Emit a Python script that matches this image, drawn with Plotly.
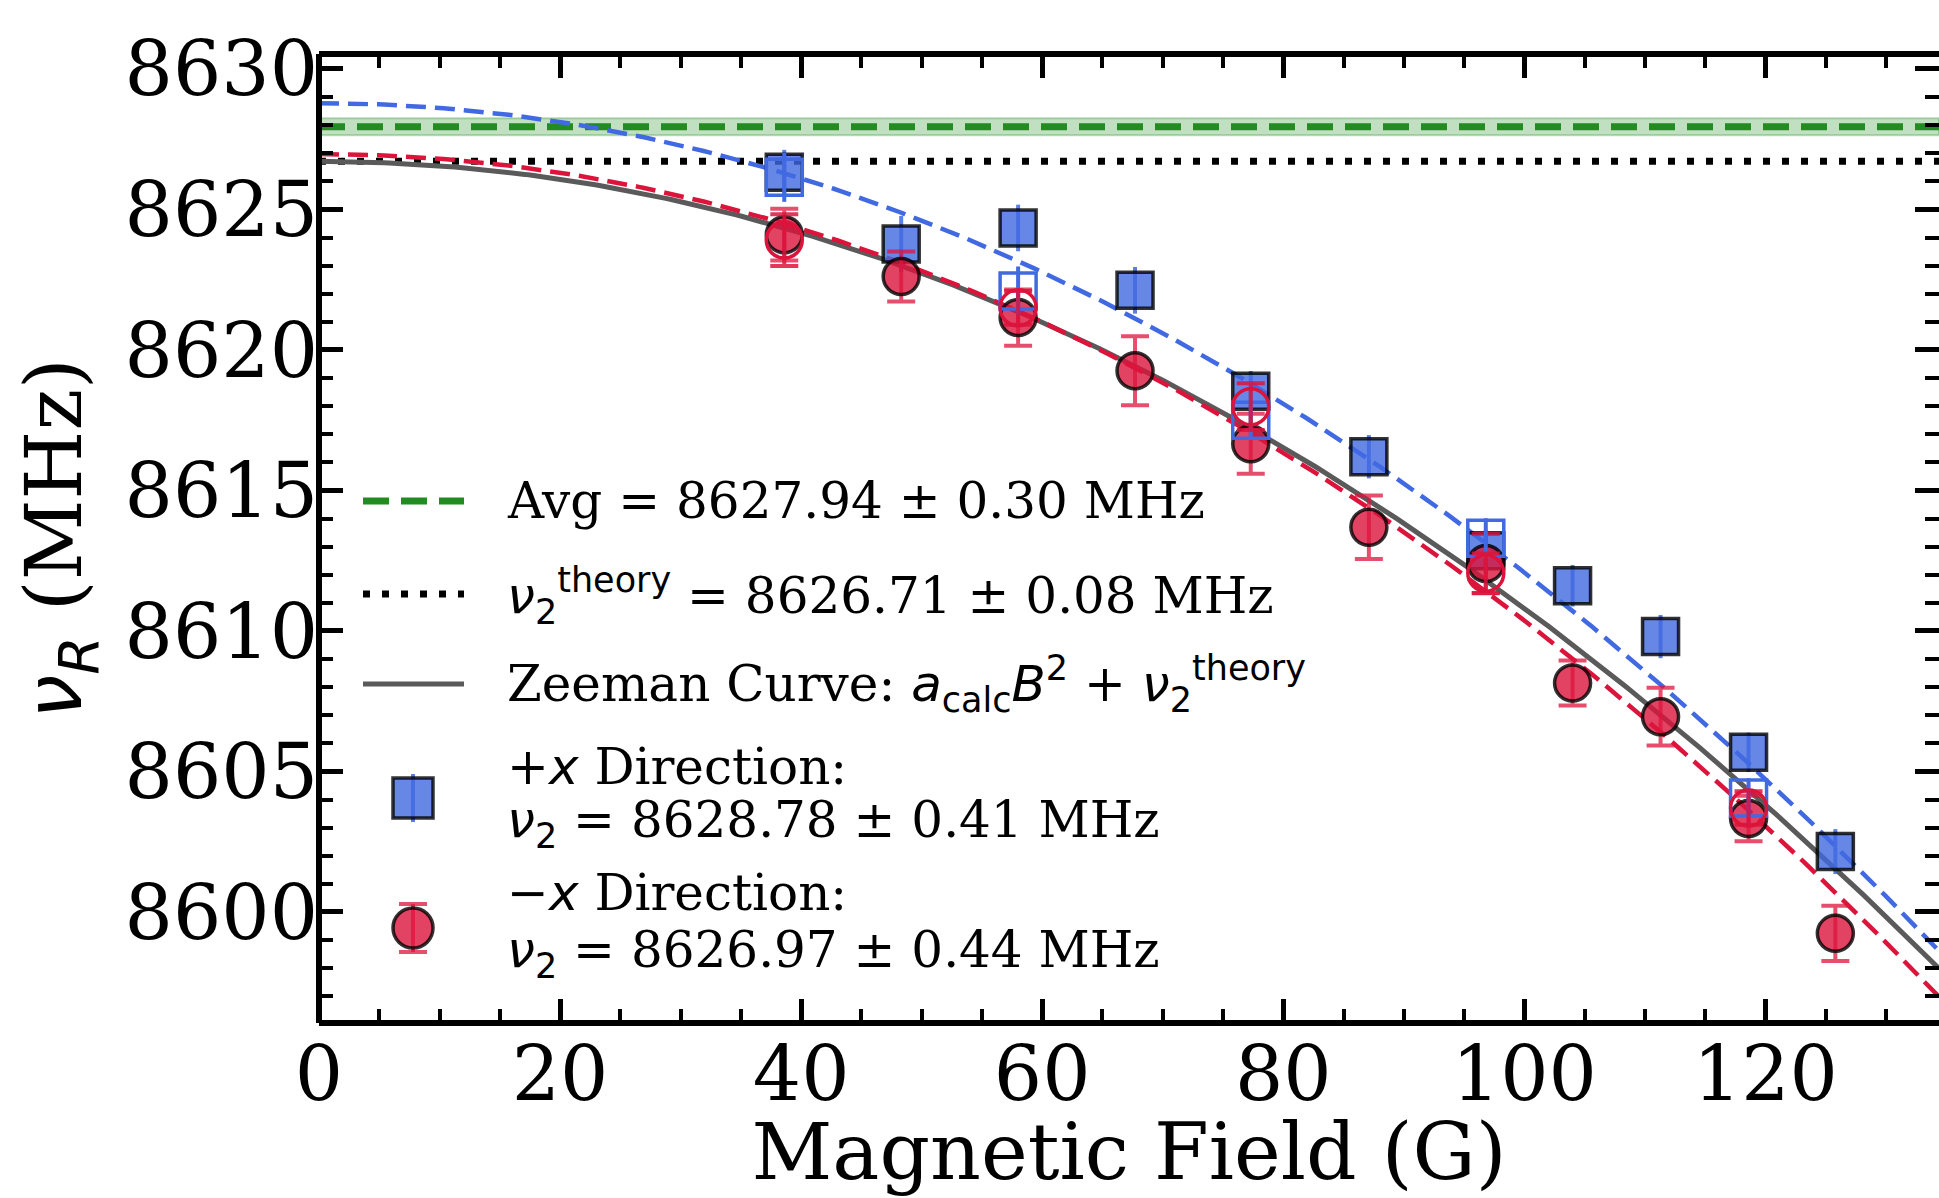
import numpy as np
import plotly.graph_objects as go

# ---------------- data ----------------
B_field = [38.6, 48.3, 58.0, 67.7, 77.3, 87.1, 96.8, 104.0, 111.3, 118.6, 125.8]
nu_plus = [8626.32, 8623.77, 8624.34, 8622.12, 8618.53, 8616.20, 8612.85, 8611.61, 8609.80, 8605.68, 8602.15]
err_plus = [0.80, 1.00, 0.83, 0.83, 0.72, 0.77, 0.75, 0.74, 0.77, 0.70, 0.80]
nu_minus = [8624.10, 8622.61, 8621.15, 8619.26, 8616.66, 8613.69, 8612.40, 8608.15, 8606.95, 8603.33, 8599.24]
err_minus = [0.92, 0.89, 1.00, 1.23, 1.07, 1.13, 1.05, 0.80, 1.03, 0.81, 0.98]

B_repeat = [38.6, 58.0, 77.3, 96.8, 118.6]
nu_plus_rep = [8626.14, 8622.10, 8617.50, 8613.30, 8604.06]
err_plus_rep = [0.87, 0.87, 0.70, 0.71, 0.70]
nu_minus_rep = [8623.91, 8621.50, 8617.98, 8612.05, 8603.70]
err_minus_rep = [0.92, 0.60, 0.83, 0.71, 0.60]

nu2_avg = 8627.94
nu2_avg_err = 0.30
nu2_theory = 8626.71
nu2_plus_fit = 8628.78
nu2_minus_fit = 8626.97
a_calc = -0.00159
a_plus_fit = -0.00167
a_minus_fit = -0.00166

x_range = [0, 134.4]
y_range = [8596.05, 8630.53]
x_ticks = [0, 20, 40, 60, 80, 100, 120]
y_ticks = [8600, 8605, 8610, 8615, 8620, 8625, 8630]

legend_labels = [
    "Avg = 8627.94 ± 0.30 MHz",
    "<i>ν</i><sub>2</sub><sup>theory</sup> = 8626.71 ± 0.08 MHz",
    "Zeeman Curve: <i>a</i><sub>calc</sub><i>B</i><sup>2</sup> + <i>ν</i><sub>2</sub><sup>theory</sup>",
    ("+<i>x</i> Direction:", "<i>ν</i><sub>2</sub> = 8628.78 ± 0.41 MHz"),
    ("−<i>x</i> Direction:", "<i>ν</i><sub>2</sub> = 8626.97 ± 0.44 MHz"),
]

# ---------------- styling ----------------
SERIF = "DejaVu Serif"
W_FIG, H_FIG = 1939, 1198
M_L, M_R, M_T, M_B = 319, 0, 54, 175
PW = W_FIG - M_L - M_R
PH = H_FIG - M_T - M_B
SANS_SPAN = "<span style=\"font-family:'DejaVu Sans'\">"


def sans_math(s):
    # math parts in DejaVu Sans like matplotlib mathtext
    out = s
    for tag in ["<i>ν</i>", "<i>a</i>", "<i>B</i>", "<i>x</i>",
                "<sup>theory</sup>", "<sub>calc</sub>", "<sub>2</sub>", "<sup>2</sup>"]:
        out = out.replace(tag, SANS_SPAN + tag + "</span>")
    return out


def pxx(px):
    return (px - M_L) / PW


def pxy(py):
    return (H_FIG - M_B - py) / PH


BLUE = "royalblue"
RED = "crimson"
BLUE_FILL = "rgba(65,105,225,0.8)"
RED_FILL = "rgba(220,20,60,0.8)"
EDGE = "rgba(0,0,0,0.8)"
GREEN = "forestgreen"
GRAY = "#5a5a5a"

B_curve = np.linspace(x_range[0], x_range[1], 300)

fig = go.Figure()

# average band
fig.add_trace(go.Scatter(
    x=[x_range[0], x_range[1], x_range[1], x_range[0], x_range[0]],
    y=[nu2_avg - nu2_avg_err, nu2_avg - nu2_avg_err, nu2_avg + nu2_avg_err,
       nu2_avg + nu2_avg_err, nu2_avg - nu2_avg_err],
    mode="lines", fill="toself", fillcolor="rgba(34,139,34,0.28)",
    line=dict(color="rgba(34,139,34,0.3)", width=2),
    showlegend=False, hoverinfo="skip"))

fig.add_trace(go.Scatter(
    x=x_range, y=[nu2_avg, nu2_avg], mode="lines",
    line=dict(color=GREEN, width=7, dash="26px,12px"),
    name="Avg", showlegend=False))

fig.add_trace(go.Scatter(
    x=x_range, y=[nu2_theory, nu2_theory], mode="lines",
    line=dict(color="black", width=7, dash="7px,12px"),
    name="theory", showlegend=False))

fig.add_trace(go.Scatter(
    x=B_curve, y=a_calc * B_curve ** 2 + nu2_theory, mode="lines",
    line=dict(color=GRAY, width=5),
    name="Zeeman", showlegend=False))

fig.add_trace(go.Scatter(
    x=B_curve, y=a_plus_fit * B_curve ** 2 + nu2_plus_fit, mode="lines",
    line=dict(color=BLUE, width=4.5, dash="20px,9px"),
    showlegend=False, hoverinfo="skip"))

fig.add_trace(go.Scatter(
    x=B_curve, y=a_minus_fit * B_curve ** 2 + nu2_minus_fit, mode="lines",
    line=dict(color=RED, width=4.5, dash="20px,9px"),
    showlegend=False, hoverinfo="skip"))

fig.add_trace(go.Scatter(
    x=B_field, y=nu_plus, mode="markers",
    marker=dict(symbol="square", size=36, color=BLUE_FILL, line=dict(color=EDGE, width=3.5)),
    error_y=dict(type="data", array=err_plus, color="rgba(65,105,225,0.85)", thickness=4, width=0),
    name="+x", showlegend=False))

fig.add_trace(go.Scatter(
    x=B_field, y=nu_minus, mode="markers",
    marker=dict(symbol="circle", size=36, color=RED_FILL, line=dict(color=EDGE, width=3.5)),
    error_y=dict(type="data", array=err_minus, color="rgba(220,20,60,0.75)", thickness=4, width=14),
    name="-x", showlegend=False))

fig.add_trace(go.Scatter(
    x=B_repeat, y=nu_plus_rep, mode="markers",
    marker=dict(symbol="square-open", size=36, color=BLUE, line=dict(color=BLUE, width=3.5)),
    error_y=dict(type="data", array=err_plus_rep, color=BLUE, thickness=4, width=0),
    showlegend=False))

fig.add_trace(go.Scatter(
    x=B_repeat, y=nu_minus_rep, mode="markers",
    marker=dict(symbol="circle-open", size=36, color=RED, line=dict(color=RED, width=3.5)),
    error_y=dict(type="data", array=err_minus_rep, color="rgba(220,20,60,0.85)", thickness=4, width=14),
    showlegend=False))

# ---------------- legend (drawn in paper coordinates) ----------------
shapes = [
    dict(type="line", xref="paper", yref="paper", x0=0, x1=0, y0=0, y1=1,
         line=dict(color="black", width=6), layer="above"),
    dict(type="line", xref="paper", yref="paper", x0=0, x1=1, y0=0, y1=0,
         line=dict(color="black", width=6), layer="above"),
    dict(type="line", xref="paper", yref="paper", x0=0, x1=1, y0=1, y1=1,
         line=dict(color="black", width=6), layer="above"),
]
annotations = []

H_X0, H_X1 = 363, 464          # handle extent (px)
TEXT_X = 505
HANDLE_Y = [501, 594, 684]
TEXT_Y = [501, 596, 684]
line_styles = [dict(color=GREEN, width=7, dash="26px,12px"),
               dict(color="black", width=7, dash="7px,12px"),
               dict(color=GRAY, width=5)]
for yy, st in zip(HANDLE_Y, line_styles):
    shapes.append(dict(type="line", xref="paper", yref="paper",
                       x0=pxx(H_X0), x1=pxx(H_X1), y0=pxy(yy), y1=pxy(yy), line=st))

for i in range(3):
    annotations.append(dict(text=sans_math(legend_labels[i]), xref="paper", yref="paper",
                            x=pxx(TEXT_X), y=pxy(TEXT_Y[i]), xanchor="left", yanchor="middle",
                            showarrow=False, font=dict(family=SERIF, size=50, color="black")))

hs = 20
# +x handle
cx, cy = 413, 798
shapes.append(dict(type="line", xref="paper", yref="paper", x0=pxx(cx), x1=pxx(cx),
                   y0=pxy(cy - 24), y1=pxy(cy + 24), line=dict(color="rgba(65,105,225,0.85)", width=4)))
shapes.append(dict(type="rect", xref="paper", yref="paper", x0=pxx(cx - hs), x1=pxx(cx + hs),
                   y0=pxy(cy - hs), y1=pxy(cy + hs), fillcolor=BLUE_FILL, line=dict(color=EDGE, width=3.5)))
# -x handle
cx, cy = 413, 928
shapes.append(dict(type="line", xref="paper", yref="paper", x0=pxx(cx), x1=pxx(cx),
                   y0=pxy(cy - 24), y1=pxy(cy + 24), line=dict(color="rgba(220,20,60,0.75)", width=4)))
for cap in (cy - 24, cy + 24):
    shapes.append(dict(type="line", xref="paper", yref="paper", x0=pxx(cx - 14), x1=pxx(cx + 14),
                       y0=pxy(cap), y1=pxy(cap), line=dict(color="rgba(220,20,60,0.75)", width=4)))
shapes.append(dict(type="circle", xref="paper", yref="paper", x0=pxx(cx - hs), x1=pxx(cx + hs),
                   y0=pxy(cy - hs), y1=pxy(cy + hs), fillcolor=RED_FILL, line=dict(color=EDGE, width=3.5)))

two_line_y = [(767, 823), (893, 953)]
for (l1, l2), (y1, y2) in zip(legend_labels[3:], two_line_y):
    annotations.append(dict(text=sans_math(l1), xref="paper", yref="paper", x=pxx(TEXT_X), y=pxy(y1),
                            xanchor="left", yanchor="middle", showarrow=False,
                            font=dict(family=SERIF, size=50, color="black")))
    annotations.append(dict(text=sans_math(l2), xref="paper", yref="paper", x=pxx(TEXT_X), y=pxy(y2),
                            xanchor="left", yanchor="middle", showarrow=False,
                            font=dict(family=SERIF, size=50, color="black")))

axis_common = dict(
    showgrid=False, zeroline=False, showline=False,
    ticks="inside", tickcolor="black", tickwidth=5, ticklen=24,
    mirror="ticks",
    tickfont=dict(family=SERIF, size=76, color="black"),
)

fig.update_layout(
    width=W_FIG, height=H_FIG,
    margin=dict(l=M_L, r=M_R, t=M_T, b=M_B),
    paper_bgcolor="white", plot_bgcolor="white",
    showlegend=False,
    xaxis=dict(range=x_range, tickvals=x_ticks, ticktext=[str(v) for v in x_ticks],
               minor=dict(dtick=5, tick0=0, ticks="inside", ticklen=14, tickwidth=4, tickcolor="black"),
               title=dict(text="Magnetic Field (G)", font=dict(family=SERIF, size=79, color="black"), standoff=22),
               **axis_common),
    yaxis=dict(range=y_range, tickvals=y_ticks, ticktext=[str(v) for v in y_ticks],
               minor=dict(dtick=1, tick0=8600, ticks="inside", ticklen=14, tickwidth=4, tickcolor="black"),
               title=dict(text=SANS_SPAN + "<i>ν</i><sub><i>R</i></sub></span> (MHz)",
                          font=dict(family=SERIF, size=79, color="black"), standoff=16),
               **axis_common),
    shapes=shapes,
    annotations=annotations,
)

fig.write_html("out.html", config={"displayModeBar": False},
               post_script="document.body.style.margin='0';")
